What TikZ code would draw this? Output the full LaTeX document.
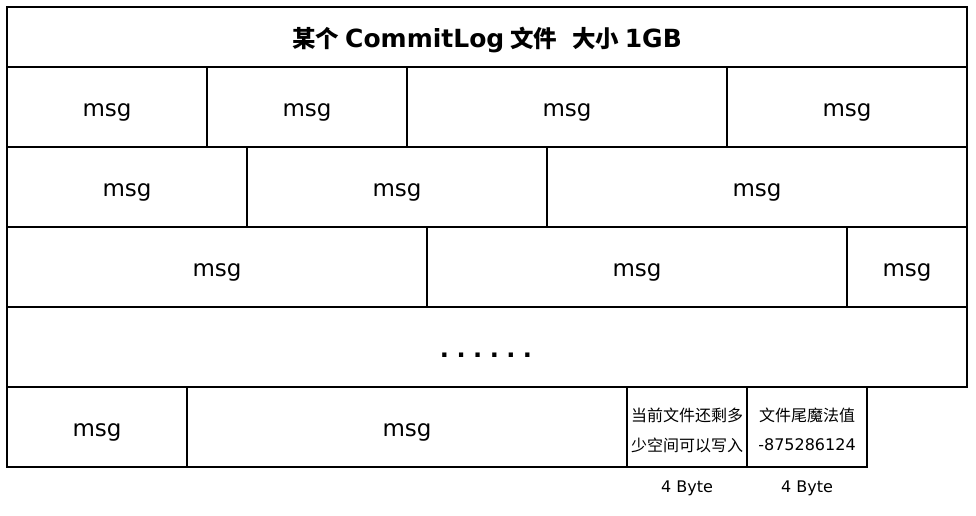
\documentclass[tikz,border=0pt]{standalone}
\usepackage{fontspec}
\setmainfont{DejaVu Sans}
\newfontfamily\cjk{Noto Sans CJK SC}
\newcommand{\hanzi}[1]{{\cjk\fontsize{23.5}{26}\selectfont #1}}
\begin{document}
\begin{tikzpicture}[x=1pt,y=-1pt,
  cell/.style={draw=black, line width=2pt, rectangle, inner sep=0pt, outer sep=0pt,
               minimum height=80pt, text height=19pt, text depth=0pt,
               font=\fontsize{23}{26}\selectfont},
  line/.style={anchor=base, inner sep=0pt, font=\fontsize{16}{18}\selectfont},
  note/.style={anchor=base, inner sep=0pt, font=\fontsize{16}{18}\selectfont}]
\useasboundingbox (0,0) rectangle (976,516);
% title bar
\node[cell, minimum width=960pt, minimum height=60pt, text height=21pt,
      font=\fontsize{25}{28}\selectfont\bfseries] (title) at (487,37)
  {\hanzi{某个}\hspace{6pt}CommitLog\hspace{6pt}\hanzi{文件}\hspace{15pt}\hanzi{大小}\hspace{5.5pt}1GB};
% row 1
\node[cell, minimum width=200pt] (a1) at (107,107) {msg};
\node[cell, minimum width=200pt] (a2) at (307,107) {msg};
\node[cell, minimum width=320pt] (a3) at (567,107) {msg};
\node[cell, minimum width=240pt] (a4) at (847,107) {msg};
% row 2
\node[cell, minimum width=240pt] (b1) at (127,187) {msg};
\node[cell, minimum width=300pt] (b2) at (397,187) {msg};
\node[cell, minimum width=420pt] (b3) at (757,187) {msg};
% row 3
\node[cell, minimum width=420pt] (c1) at (217,267) {msg};
\node[cell, minimum width=420pt] (c2) at (637,267) {msg};
\node[cell, minimum width=120pt] (c3) at (907,267) {msg};
% elided rows
\node[cell, minimum width=960pt] (d1) at (487,347) {};
\node[anchor=base, inner sep=0pt, font=\fontsize{24}{26}\selectfont\bfseries] (dots) at (486,357)
  {.\hspace{7.5pt}.\hspace{7.5pt}.\hspace{7.5pt}.\hspace{7.5pt}.\hspace{7.5pt}.};
% last row
\node[cell, minimum width=180pt] (e1) at (97,427) {msg};
\node[cell, minimum width=440pt] (e2) at (407,427) {msg};
\node[cell, minimum width=120pt] (e3) at (687,427) {};
\node[cell, minimum width=120pt] (e4) at (807,427) {};
\node[line] (e3a) at (e3.center |- 0,421) {\cjk 当前文件还剩多};
\node[line] (e3b) at (e3.center |- 0,451) {\cjk 少空间可以写入};
\node[line] (e4a) at (e4.center |- 0,421) {\cjk 文件尾魔法值};
\node[line] (e4b) at (e4.center |- 0,450) {-875286124};
% sizes
\node[note] (s3) at (e3.south |- 0,492.5) {4 Byte};
\node[note] (s4) at (e4.south |- 0,492.5) {4 Byte};
\end{tikzpicture}
\end{document}
